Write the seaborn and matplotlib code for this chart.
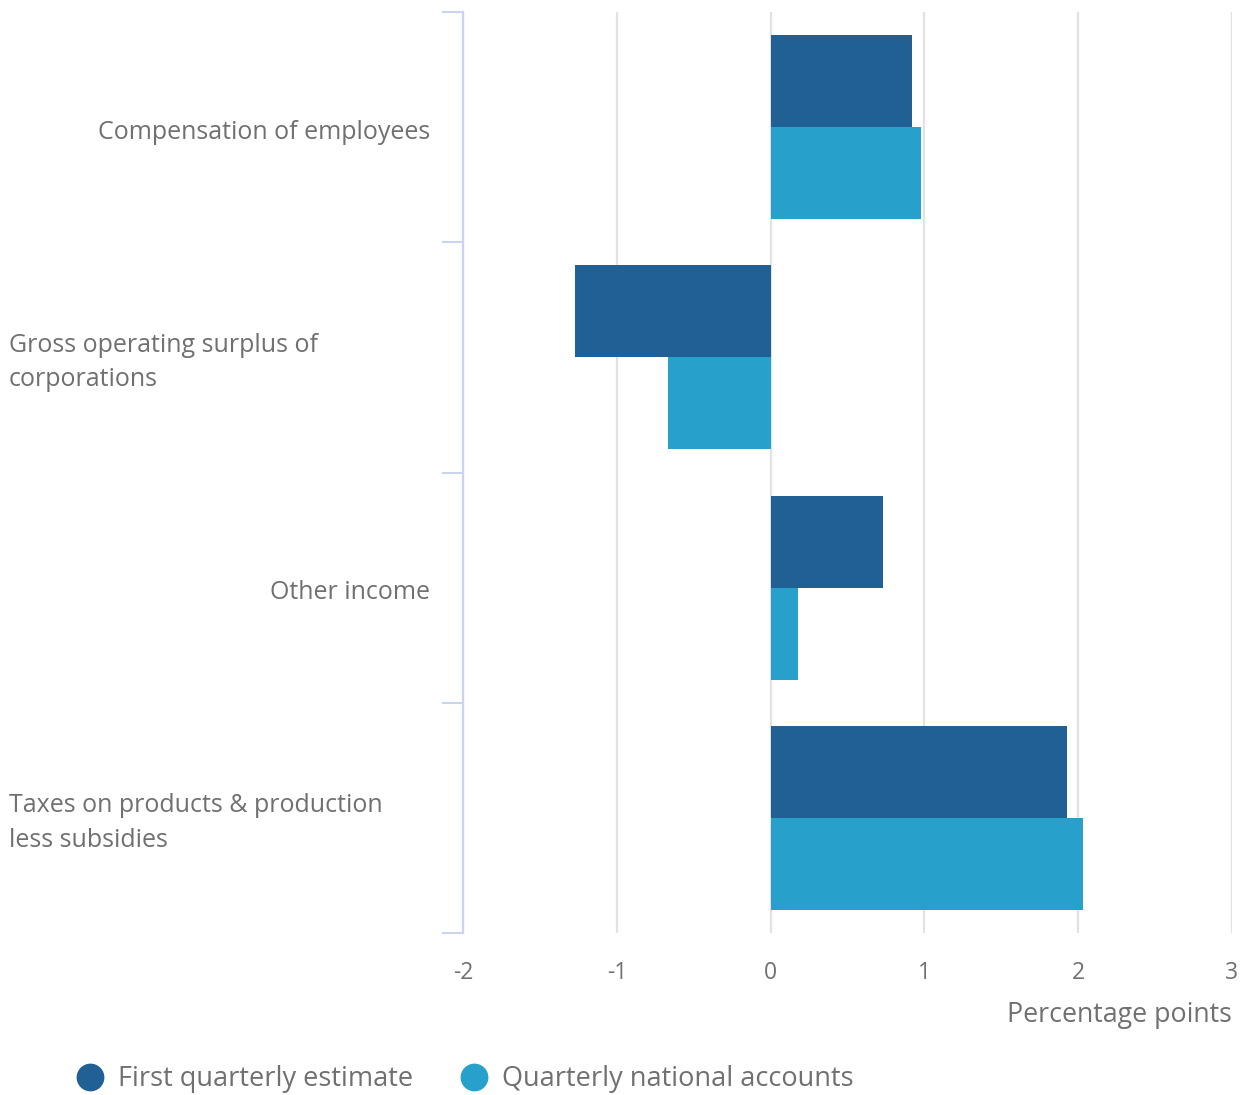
import matplotlib
matplotlib.use("Agg")
import matplotlib.pyplot as plt
import matplotlib.transforms as mtransforms
from matplotlib.lines import Line2D
import numpy as np
import pandas as pd
import seaborn as sns

categories = [
    "Compensation of employees",
    "Gross operating surplus of\ncorporations",
    "Other income",
    "Taxes on products & production\nless subsidies",
]
series_names = ["First quarterly estimate", "Quarterly national accounts"]
first_estimate = [0.92, -1.27, 0.73, 1.93]
national_accounts = [0.98, -0.67, 0.18, 2.03]
x_ticks = [-2, -1, 0, 1, 2, 3]
x_label = "Percentage points"

colors = ["#206095", "#27A0CC"]
text_color = "#707070"

df = pd.DataFrame({
    "category": categories * 2,
    "series": [series_names[0]] * 4 + [series_names[1]] * 4,
    "value": first_estimate + national_accounts,
})

sns.set_theme(style="white")
plt.rcParams["font.family"] = ["Open Sans", "DejaVu Sans"]

fig = plt.figure(figsize=(12.45, 10.95), dpi=100)
ax = fig.add_axes([463 / 1245, 162 / 1095, 769 / 1245, 921 / 1095])

sns.barplot(data=df, y="category", x="value", hue="series", order=categories,
            hue_order=series_names, palette=colors, orient="h", width=0.8,
            saturation=1, ax=ax, legend=False, linewidth=0)

ax.set_xlim(-2, 3)
ax.set_ylim(len(categories) - 0.5, -0.5)
ax.set_xticks(x_ticks)
ax.set_xticklabels([str(t) for t in x_ticks])
ax.tick_params(axis="x", length=0, pad=20, labelsize=16.5, labelcolor=text_color)
ax.grid(axis="x", color="#e2e2e2", linewidth=1.6, zorder=0)
ax.set_axisbelow(True)

# Category boundary ticks on the left spine
ax.set_yticks([])
ax.set_yticks(np.arange(-0.5, len(categories)), minor=True)
ax.tick_params(axis="y", which="minor", length=15, width=1.5, color="#ccd3ee", left=True)
ax.set_ylabel("")
ax.set_xlabel("")

for side in ["top", "right", "bottom"]:
    ax.spines[side].set_visible(False)
ax.spines["left"].set_color("#ccd3ee")
ax.spines["left"].set_linewidth(1.6)

# Category labels: single-line right-aligned, wrapped labels left-aligned
trans = mtransforms.blended_transform_factory(fig.transFigure, ax.transData)
for i, cat in enumerate(categories):
    if "\n" in cat:
        ax.text(9 / 1245, i + 0.022, cat, transform=trans, ha="left", va="center",
                fontsize=18, color=text_color, linespacing=1.5)
    else:
        ax.text(430 / 1245, i + 0.01, cat, transform=trans, ha="right",
                va="center_baseline", fontsize=18, color=text_color)

fig.text(1232 / 1245, 1 - 1015 / 1095, x_label, ha="right", va="center",
         fontsize=19.3, color=text_color)

handles = [Line2D([], [], marker="o", linestyle="", markersize=20,
                  markerfacecolor=c, markeredgewidth=0) for c in colors]
fig.legend(handles, series_names, loc="center left",
           bbox_to_anchor=(52 / 1245, 1 - 1079 / 1095), ncol=2, frameon=False,
           fontsize=19.5, labelcolor=text_color, handletextpad=0.55,
           columnspacing=1.72, handlelength=1.0)

fig.savefig("out.png", dpi=100, facecolor="white")
